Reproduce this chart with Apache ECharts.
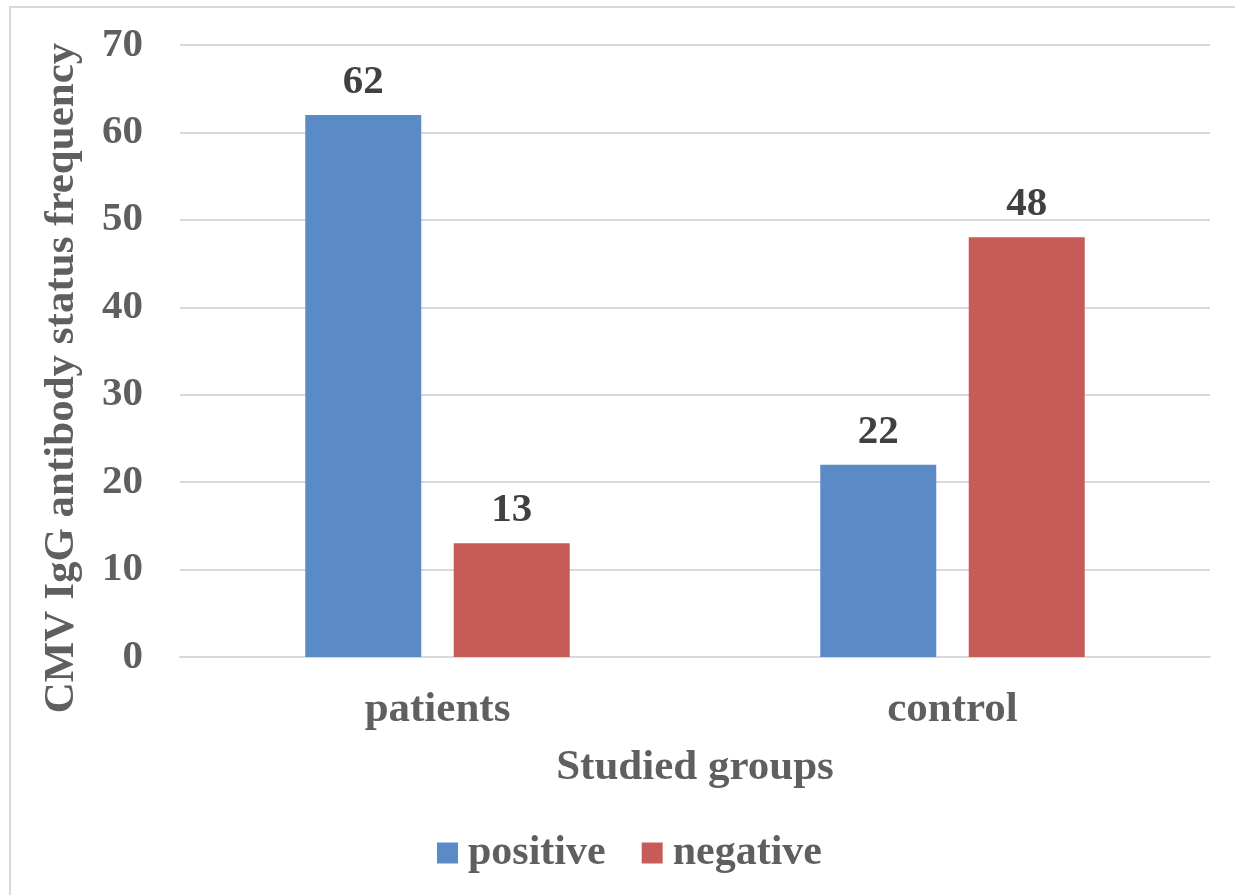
<!DOCTYPE html>
<html>
<head>
<meta charset="utf-8">
<script src="https://cdn.jsdelivr.net/npm/echarts@6/dist/echarts.min.js"></script>
<style>
  html, body { margin: 0; padding: 0; background: #fff; }
  #chart { width: 1235px; height: 895px; }
</style>
</head>
<body>
<div id="chart"></div>
<script>
// Studied groups and CMV IgG antibody status counts
const groups = ['patients', 'control'];
const positiveCounts = [62, 22];
const negativeCounts = [13, 48];
const yTicks = { min: 0, max: 70, interval: 10 };

const textColor = '#5f5f5f';
const serif = '"Liberation Serif", "Times New Roman", serif';

const chart = echarts.init(document.getElementById('chart'));

const valueLabel = {
  show: true,
  position: 'top',
  distance: 12,
  color: '#404040',
  fontFamily: serif,
  fontWeight: 'bold',
  fontSize: 41
};

chart.setOption({
  animation: false,
  backgroundColor: '#ffffff',
  grid: { left: 180, right: 25, top: 45, bottom: 238, containLabel: false },
  legend: {
    data: ['positive', 'negative'],
    left: 437,
    top: 832,
    padding: 0,
    itemWidth: 21,
    itemHeight: 21,
    itemGap: 36,
    icon: 'rect',
    textStyle: { color: textColor, fontFamily: serif, fontWeight: 'bold', fontSize: 42, padding: [0, 0, 0, 5] }
  },
  graphic: [
    {
      type: 'rect',
      shape: { x: 10, y: 7, width: 1240, height: 900 },
      style: { fill: 'none', stroke: '#d9d9d9', lineWidth: 2 },
      silent: true
    },
    {
      type: 'text',
      x: 62,
      y: 378,
      rotation: Math.PI / 2,
      style: {
        text: 'CMV IgG antibody status frequency',
        fill: textColor,
        font: 'bold 43px ' + serif,
        align: 'center',
        verticalAlign: 'middle'
      }
    }
  ],
  xAxis: {
    type: 'category',
    data: groups,
    name: 'Studied groups',
    nameLocation: 'middle',
    nameGap: 89,
    nameTextStyle: { color: textColor, fontFamily: serif, fontWeight: 'bold', fontSize: 43 },
    axisLine: { show: true, lineStyle: { color: '#d9d9d9', width: 2 } },
    axisTick: { show: false },
    axisLabel: { color: textColor, fontFamily: serif, fontWeight: 'bold', fontSize: 43, margin: 31 }
  },
  yAxis: {
    type: 'value',
    min: yTicks.min,
    max: yTicks.max,
    interval: yTicks.interval,
    axisLine: { show: false },
    axisTick: { show: false },
    splitLine: { lineStyle: { color: '#d9d9d9', width: 2 } },
    axisLabel: { color: textColor, fontFamily: serif, fontWeight: 'bold', fontSize: 41, margin: 37 }
  },
  series: [
    {
      name: 'positive',
      type: 'bar',
      data: positiveCounts,
      barWidth: 116,
      barGap: '28%',
      itemStyle: { color: '#5B8BC6' },
      label: valueLabel
    },
    {
      name: 'negative',
      type: 'bar',
      data: negativeCounts,
      barWidth: 116,
      itemStyle: { color: '#C75B57' },
      label: valueLabel
    }
  ]
});
</script>
</body>
</html>
